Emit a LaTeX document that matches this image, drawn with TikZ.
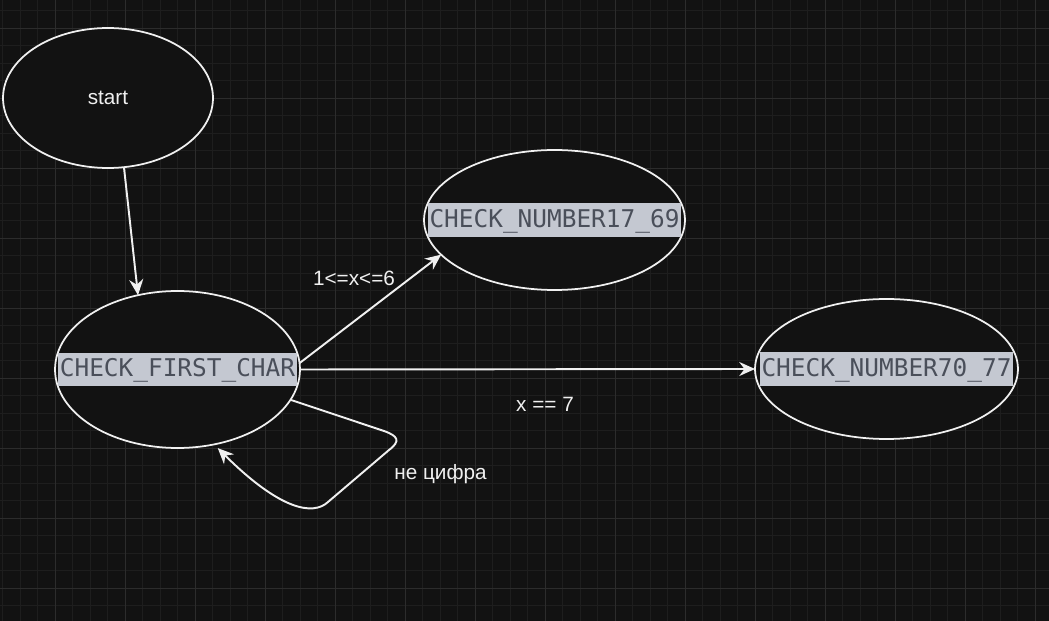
\documentclass[tikz,border=0pt]{standalone}
\usepackage{fontspec}
\setmainfont{Liberation Sans}
\newfontfamily\codefont{DejaVu Sans Mono}
\usetikzlibrary{shapes.geometric,arrows.meta}

\definecolor{canvasbg}{RGB}{18,18,18}
\definecolor{gridminor}{RGB}{30,30,30}
\definecolor{gridmajor}{RGB}{44,44,44}
\definecolor{inkwhite}{RGB}{240,240,240}
\definecolor{codebg}{RGB}{196,200,209}
\definecolor{codeink}{RGB}{74,79,90}

\begin{document}
\begin{tikzpicture}[x=0.02cm, y=-0.02cm,
    state/.style={ellipse, draw=inkwhite, fill=canvasbg, line width=1pt, inner sep=0pt, outer sep=0pt},
    code/.style={fill=codebg, text=codeink, font=\codefont\fontsize{13.9pt}{16pt}\selectfont,
                 inner xsep=1pt, inner ysep=0pt, text height=13.6pt, text depth=5.3pt},
    lbl/.style={text=inkwhite, font=\fontsize{11.8pt}{14pt}\selectfont, inner sep=0pt},
    edge/.style={draw=inkwhite, line width=1.1pt, -{Stealth[length=9pt,width=8pt,inset=3pt]}}]
      % canvas and grid
      \fill[canvasbg] (0,0) rectangle (1049,621);
      \useasboundingbox (0,0) rectangle (1049,621);
      \foreach \gx in {0,...,59}
        \draw[gridminor, line width=0.5pt] ({2.8+17.5*\gx},0) -- ({2.8+17.5*\gx},621);
      \foreach \gy in {0,...,35}
        \draw[gridminor, line width=0.5pt] (0,{10.8+17.5*\gy}) -- (1049,{10.8+17.5*\gy});
      \foreach \gx in {0,...,14}
        \draw[gridmajor, line width=0.6pt] ({55.3+70*\gx},0) -- ({55.3+70*\gx},621);
      \foreach \gy in {0,...,8}
        \draw[gridmajor, line width=0.6pt] (0,{28.3+70*\gy}) -- (1049,{28.3+70*\gy});

      % states
      \node[state, minimum width=4.2cm, minimum height=2.8cm] (start) at (108,98) {};
      \node[state, minimum width=4.9cm, minimum height=3.14cm] (cfc) at (177.5,369.5) {};
      \node[state, minimum width=5.22cm, minimum height=2.8cm] (n17) at (554.5,220) {};
      \node[state, minimum width=5.26cm, minimum height=2.8cm] (n70) at (886.5,369) {};
      \node[lbl] (start-t) at (start) {start};
      \node[code] (cfc-t) at (cfc) {CHECK\_FIRST\_CHAR};
      \node[code] (n17-t) at (n17) {CHECK\_NUMBER17\_69};
      \node[code] (n70-t) at (n70) {CHECK\_NUMBER70\_77};

      % transitions
      \coordinate (loopA) at (384,431);
      \coordinate (loopB) at (389,450);
      \coordinate (loopC) at (328,502);
      \draw[edge] (start.-77) -- (cfc.118);
      \draw[edge] (cfc.3) -- (n17.197);
      \draw[edge] (cfc.east) -- (n70.west);
      \draw[edge, shorten >=3pt] (cfc.-15) -- (loopA)
            .. controls (398,436) and (401,441) .. (loopB) -- (loopC)
            .. controls (313,516) and (280,510) .. (cfc.-64);

      % labels
      \node[lbl] (lbl17) at (354,278) {1<=x<=6};
      \node[lbl] (lbl70) at (545,404) {x == 7};
      \node[lbl] (lblloop) at (440.5,474) {не цифра};
\end{tikzpicture}
\end{document}
